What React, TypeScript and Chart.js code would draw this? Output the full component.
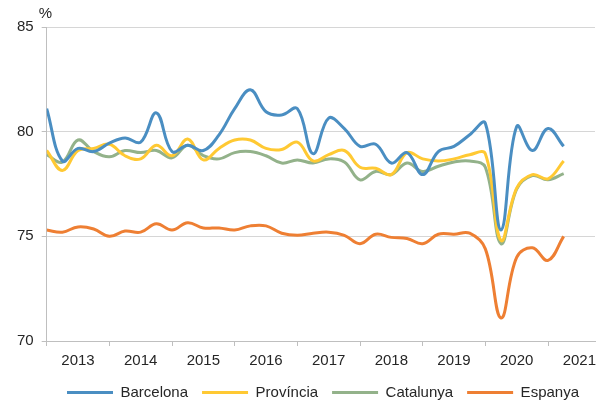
import { useEffect, useRef } from 'react';
import { Chart, registerables } from 'chart.js';

Chart.register(...registerables);

const years = ['2013', '2014', '2015', '2016', '2017', '2018', '2019', '2020', '2021'];
const seriesNames = ['Barcelona', 'Província', 'Catalunya', 'Espanya'];
const seriesColors = ['#4a8ec2', '#ffc933', '#93b28a', '#ee7f33'];

// Quarterly values, 2013 T1 .. 2021 T2
const barcelona = [81.1, 78.6, 79.2, 79.05, 79.45, 79.7, 79.5, 80.9, 79.05, 79.35, 79.1, 79.85, 81.1, 82.0, 80.95, 80.8, 81.1, 78.95, 80.65, 80.15, 79.3, 79.4, 78.5, 79.0, 77.95, 79.05, 79.3, 79.85, 80.4, 75.3, 80.25, 79.1, 80.15, 79.3];
const provincia = [79.1, 78.15, 79.1, 79.2, 79.4, 78.85, 78.7, 79.35, 78.85, 79.65, 78.65, 79.2, 79.6, 79.6, 79.2, 79.15, 79.5, 78.6, 78.9, 79.1, 78.3, 78.25, 77.95, 79.0, 78.7, 78.6, 78.7, 78.9, 78.95, 74.8, 77.3, 77.95, 77.75, 78.6];
const catalunya = [78.9, 78.55, 79.6, 79.05, 78.8, 79.1, 79.0, 79.1, 78.75, 79.35, 78.85, 78.7, 79.0, 79.05, 78.85, 78.5, 78.65, 78.5, 78.7, 78.55, 77.7, 78.1, 77.95, 78.5, 78.1, 78.35, 78.55, 78.6, 78.3, 74.65, 77.25, 77.9, 77.7, 78.0];
const espanya = [75.3, 75.2, 75.45, 75.35, 75.0, 75.25, 75.2, 75.6, 75.3, 75.65, 75.4, 75.4, 75.3, 75.5, 75.5, 75.15, 75.05, 75.15, 75.2, 75.05, 74.65, 75.1, 74.95, 74.9, 74.65, 75.1, 75.1, 75.15, 74.4, 71.1, 74.0, 74.45, 73.85, 75.0];

const yTicks = [70, 75, 80, 85];
const unitLabel = '%';

const FONT = '"Liberation Sans", Arial, Helvetica, sans-serif';
const TEXT = '#262626';
const AXIS = '#bfbfbf';
const GRID = '#d6d6d6';

export default function App() {
  const ref = useRef<HTMLCanvasElement>(null);

  useEffect(() => {
    if (!ref.current) return;
    const all = [barcelona, provincia, catalunya, espanya];
    const toPts = (arr: number[]) => arr.map((v, i) => ({ x: i, y: v }));

    const unitPlugin = {
      id: 'unitLabel',
      afterDraw(chart: any) {
        const { ctx, chartArea } = chart;
        ctx.save();
        ctx.font = `15px ${FONT}`;
        ctx.fillStyle = TEXT;
        ctx.textAlign = 'left';
        ctx.textBaseline = 'middle';
        ctx.fillText(unitLabel, chartArea.left - 8, chartArea.top - 13);
        ctx.restore();
      },
    };

    const legendShift = {
      id: 'legendShift',
      afterLayout(chart: any) {
        const l = chart.legend;
        if (l) {
          l.top += 6;
          l.bottom += 6;
          l.left += 21;
          l.right += 21;
        }
      },
    };

    const chart = new Chart(ref.current, {
      type: 'line',
      data: {
        datasets: all.map((arr, k) => ({
          label: seriesNames[k],
          data: toPts(arr),
          borderColor: seriesColors[k],
          backgroundColor: seriesColors[k],
          borderWidth: 3,
          pointRadius: 0,
          pointHoverRadius: 0,
          tension: 0.4,
          fill: false,
        })),
      },
      options: {
        animation: false,
        responsive: false,
        maintainAspectRatio: false,
        layout: { padding: { left: 9, right: 9, top: 27, bottom: 0 } },
        font: { family: FONT },
        plugins: {
          tooltip: { enabled: false },
          title: { display: false },
          legend: {
            position: 'bottom',
            labels: {
              usePointStyle: true,
              pointStyle: 'line',
              pointStyleWidth: 46,
              padding: 14,
              color: TEXT,
              font: { family: FONT, size: 15 },
            },
          },
        },
        scales: {
          x: {
            type: 'linear',
            min: 0,
            max: 35,
            afterBuildTicks: (axis: any) => {
              const t = [];
              for (let v = 0; v <= 34; v += 2) t.push({ value: v });
              axis.ticks = t;
            },
            afterFit: (s: any) => {
              s.height = 24;
            },
            ticks: {
              autoSkip: false,
              maxRotation: 0,
              padding: 6,
              color: TEXT,
              font: { family: FONT, size: 15 },
              callback: (value: any) => {
                const v = Number(value);
                return v % 4 === 2 ? years[(v - 2) / 4] : '';
              },
            },
            grid: {
              drawOnChartArea: false,
              drawTicks: true,
              tickLength: 5,
              color: (ctx: any) =>
                ctx.tick && ctx.tick.value % 4 === 0 ? AXIS : 'rgba(0,0,0,0)',
            },
            border: { display: true, color: AXIS, width: 1 },
          },
          y: {
            min: 70,
            max: 85,
            afterBuildTicks: (axis: any) => {
              axis.ticks = yTicks.map((v) => ({ value: v }));
            },
            ticks: {
              padding: 8,
              color: TEXT,
              font: { family: FONT, size: 15 },
            },
            grid: {
              color: GRID,
              tickColor: AXIS,
              tickLength: 5,
            },
            border: { display: true, color: AXIS, width: 1 },
          },
        },
      },
      plugins: [unitPlugin, legendShift],
    } as any);

    return () => chart.destroy();
  }, []);

  return (
    <div style={{ position: 'fixed', left: 0, top: 0, width: 604, height: 404, background: '#fff' }}>
      <canvas ref={ref} width={604} height={404} style={{ display: 'block' }} />
    </div>
  );
}
